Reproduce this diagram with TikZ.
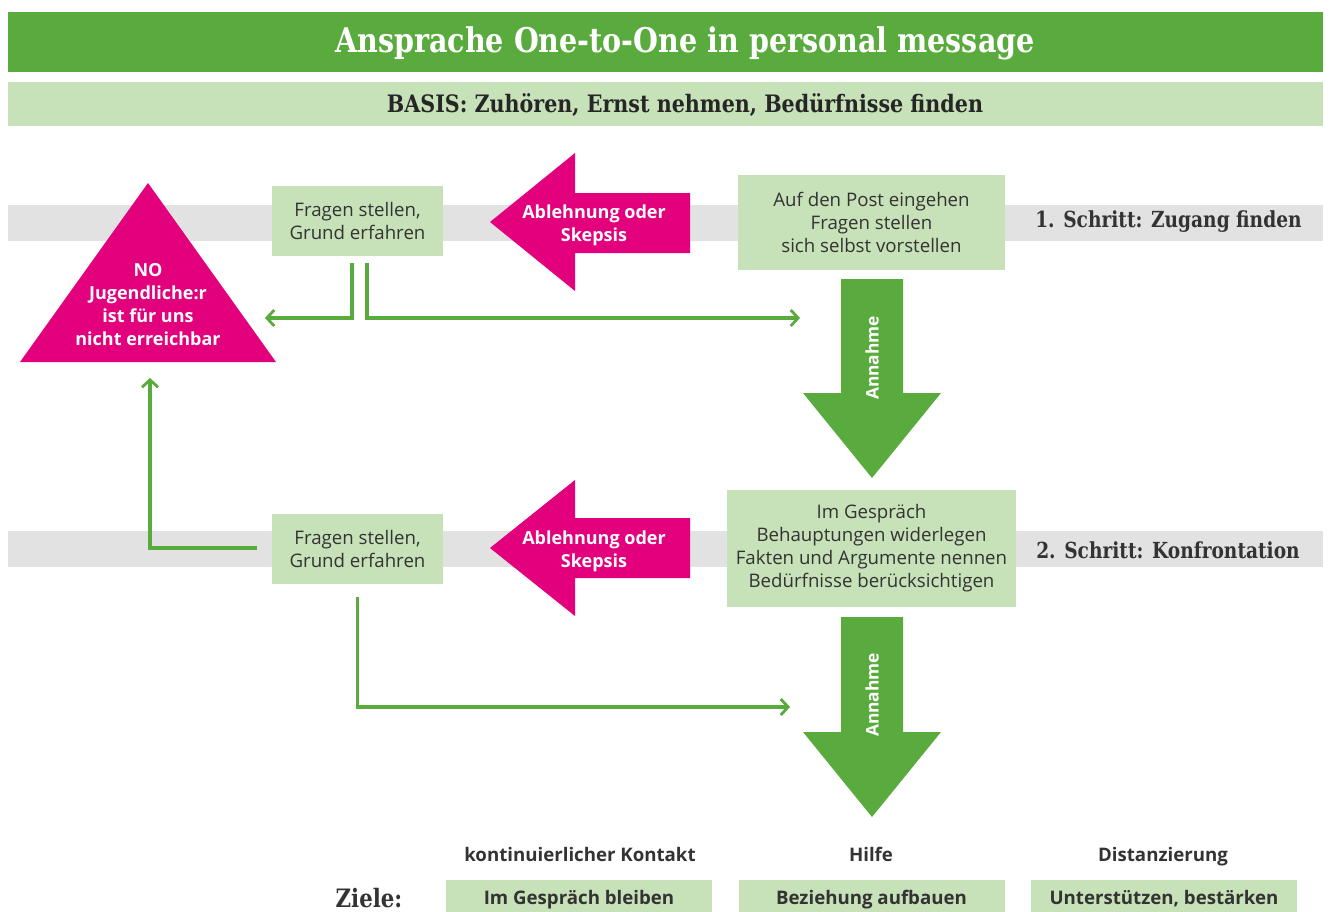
\documentclass[tikz,border=0pt]{standalone}
\usepackage{fontspec}
\setmainfont{Open Sans}
\newfontfamily\slab{DejaVu Serif}[FakeStretch=0.86]
\newfontfamily\slabc{DejaVu Serif}[FakeStretch=0.84]
\usetikzlibrary{arrows.meta,calc}
\definecolor{tgreen}{HTML}{5AAB3E}
\definecolor{lgreen}{HTML}{C7E1B8}
\definecolor{magen}{HTML}{E3007D}
\definecolor{band}{HTML}{E2E2E2}
\definecolor{dtext}{HTML}{333333}
\tikzset{
  box/.style={fill=lgreen, inner sep=0pt, align=center, text=dtext,
    font=\fontsize{14}{17.25}\selectfont},
  whitetxt/.style={text=white, align=center, inner sep=0pt,
    font=\fontsize{13.5}{17.25}\selectfont\bfseries},
  steplabel/.style={text=dtext, anchor=west, inner sep=0pt,
    font=\fontsize{16.6}{18}\selectfont\slabc\bfseries},
  conn/.style={draw=tgreen, line width=2.3pt,
    -{Straight Barb[length=5.5pt,width=12pt,line width=2.1pt]}},
  goalhead/.style={text=dtext, inner sep=0pt, anchor=base, font=\fontsize{14}{15}\selectfont\bfseries},
  goalbox/.style={fill=lgreen, inner sep=0pt, minimum width=199.5pt, minimum height=30pt,
    text height=10pt, text depth=3pt,
    text=dtext, font=\fontsize{14}{15}\selectfont\bfseries},
  annlabel/.style={text=white, rotate=90, inner sep=0pt, font=\fontsize{13}{15}\selectfont\bfseries},
}
\begin{document}
\begin{tikzpicture}[x=0.75pt,y=-0.75pt]
\useasboundingbox (0,0) rectangle (1331,911);
\clip (0,0) rectangle (1331,911);
\fill[white] (0,0) rectangle (1331,911);
% title bars
\fill[tgreen] (8,12) rectangle (1323,72);
\node[text=white, inner sep=0pt, font=\fontsize{25.5}{28}\selectfont\slabc\bfseries] (title) at (685,43) {Ansprache One-to-One in personal message};
\fill[lgreen] (8,82) rectangle (1323,126);
\node[text=black!85, inner sep=0pt, font=\fontsize{18}{20}\selectfont\slab\bfseries] (basis) at (685,105) {BASIS: Zuhören, Ernst nehmen, Bedürfnisse finden};
% grey bands
\fill[band] (8,205) rectangle (1323,241);
\fill[band] (8,531) rectangle (1323,567);
% triangle
\fill[magen] (148,183) -- (276,362) -- (20,362) -- cycle;
\node[whitetxt] (no) at (148,305) {NO\\Jugendliche:r\\ist für uns\\nicht erreichbar};
% step 1
\node[box, minimum width=128.25pt, minimum height=52.5pt] (f1) at (357.5,221) {Fragen stellen,\\Grund erfahren};
\fill[magen] (490,222) -- (575,153) -- (575,193) -- (690,193) -- (690,253) -- (575,253) -- (575,291) -- cycle;
\node[whitetxt] (abl1) at (594,225) {Ablehnung oder\\Skepsis};
\node[box, minimum width=200.25pt, minimum height=71.25pt] (a1) at (871.5,222.5) {Auf den Post eingehen\\Fragen stellen\\sich selbst vorstellen};
\node[steplabel] (s1) at (1035,222) {1. Schritt: Zugang finden};
% Annahme arrow 1
\fill[tgreen] (841,279) -- (903,279) -- (903,393) -- (941,393) -- (872,478) -- (803,393) -- (841,393) -- cycle;
\node[annlabel] (ann1) at (872,358) {Annahme};
% step 2
\node[box, minimum width=216.75pt, minimum height=87.75pt] (b2) at (871.5,548.5) {Im Gespräch\\Behauptungen widerlegen\\Fakten und Argumente nennen\\Bedürfnisse berücksichtigen};
\node[steplabel] (s2) at (1036,550) {2. Schritt: Konfrontation};
\node[box, minimum width=128.25pt, minimum height=52.5pt] (f2) at (357.5,549) {Fragen stellen,\\Grund erfahren};
\fill[magen] (490,548) -- (575,480) -- (575,518) -- (690,518) -- (690,578) -- (575,578) -- (575,616) -- cycle;
\node[whitetxt] (abl2) at (594,551) {Ablehnung oder\\Skepsis};
% Annahme arrow 2
\fill[tgreen] (841,617) -- (903,617) -- (903,732) -- (941,732) -- (872,817) -- (803,732) -- (841,732) -- cycle;
\node[annlabel] (ann2) at (872,695) {Annahme};
% connectors
\coordinate (c1l) at (265,318);
\coordinate (c1r) at (800,318);
\coordinate (c2u) at (150,378);
\coordinate (c2r) at (790,707);
\draw[conn] ($(f1.south)+(-5.5,7)$) |- (c1l);
\draw[conn] ($(f1.south)+(9.5,7)$) |- (c1r);
\draw[conn] ($(f2.west)+(-15,-1)$) -| (c2u);
\draw[conn] ($(f2.south)+(0,13)$) |- (c2r);
% goals
\node[goalhead] (h1) at (580,861) {kontinuierlicher Kontakt};
\node[goalhead] (h2) at (871,861) {Hilfe};
\node[goalhead] (h3) at (1163,861) {Distanzierung};
\node[text=dtext, inner sep=0pt, font=\fontsize{19}{22}\selectfont\slabc\bfseries] (ziele) at (369,898) {Ziele:};
\node[goalbox] (g1) at (579,900) {Im Gespräch bleiben};
\node[goalbox] (g2) at (871.5,900) {Beziehung aufbauen};
\node[goalbox] (g3) at (1164,900) {Unterstützen, bestärken};
\end{tikzpicture}
\end{document}
